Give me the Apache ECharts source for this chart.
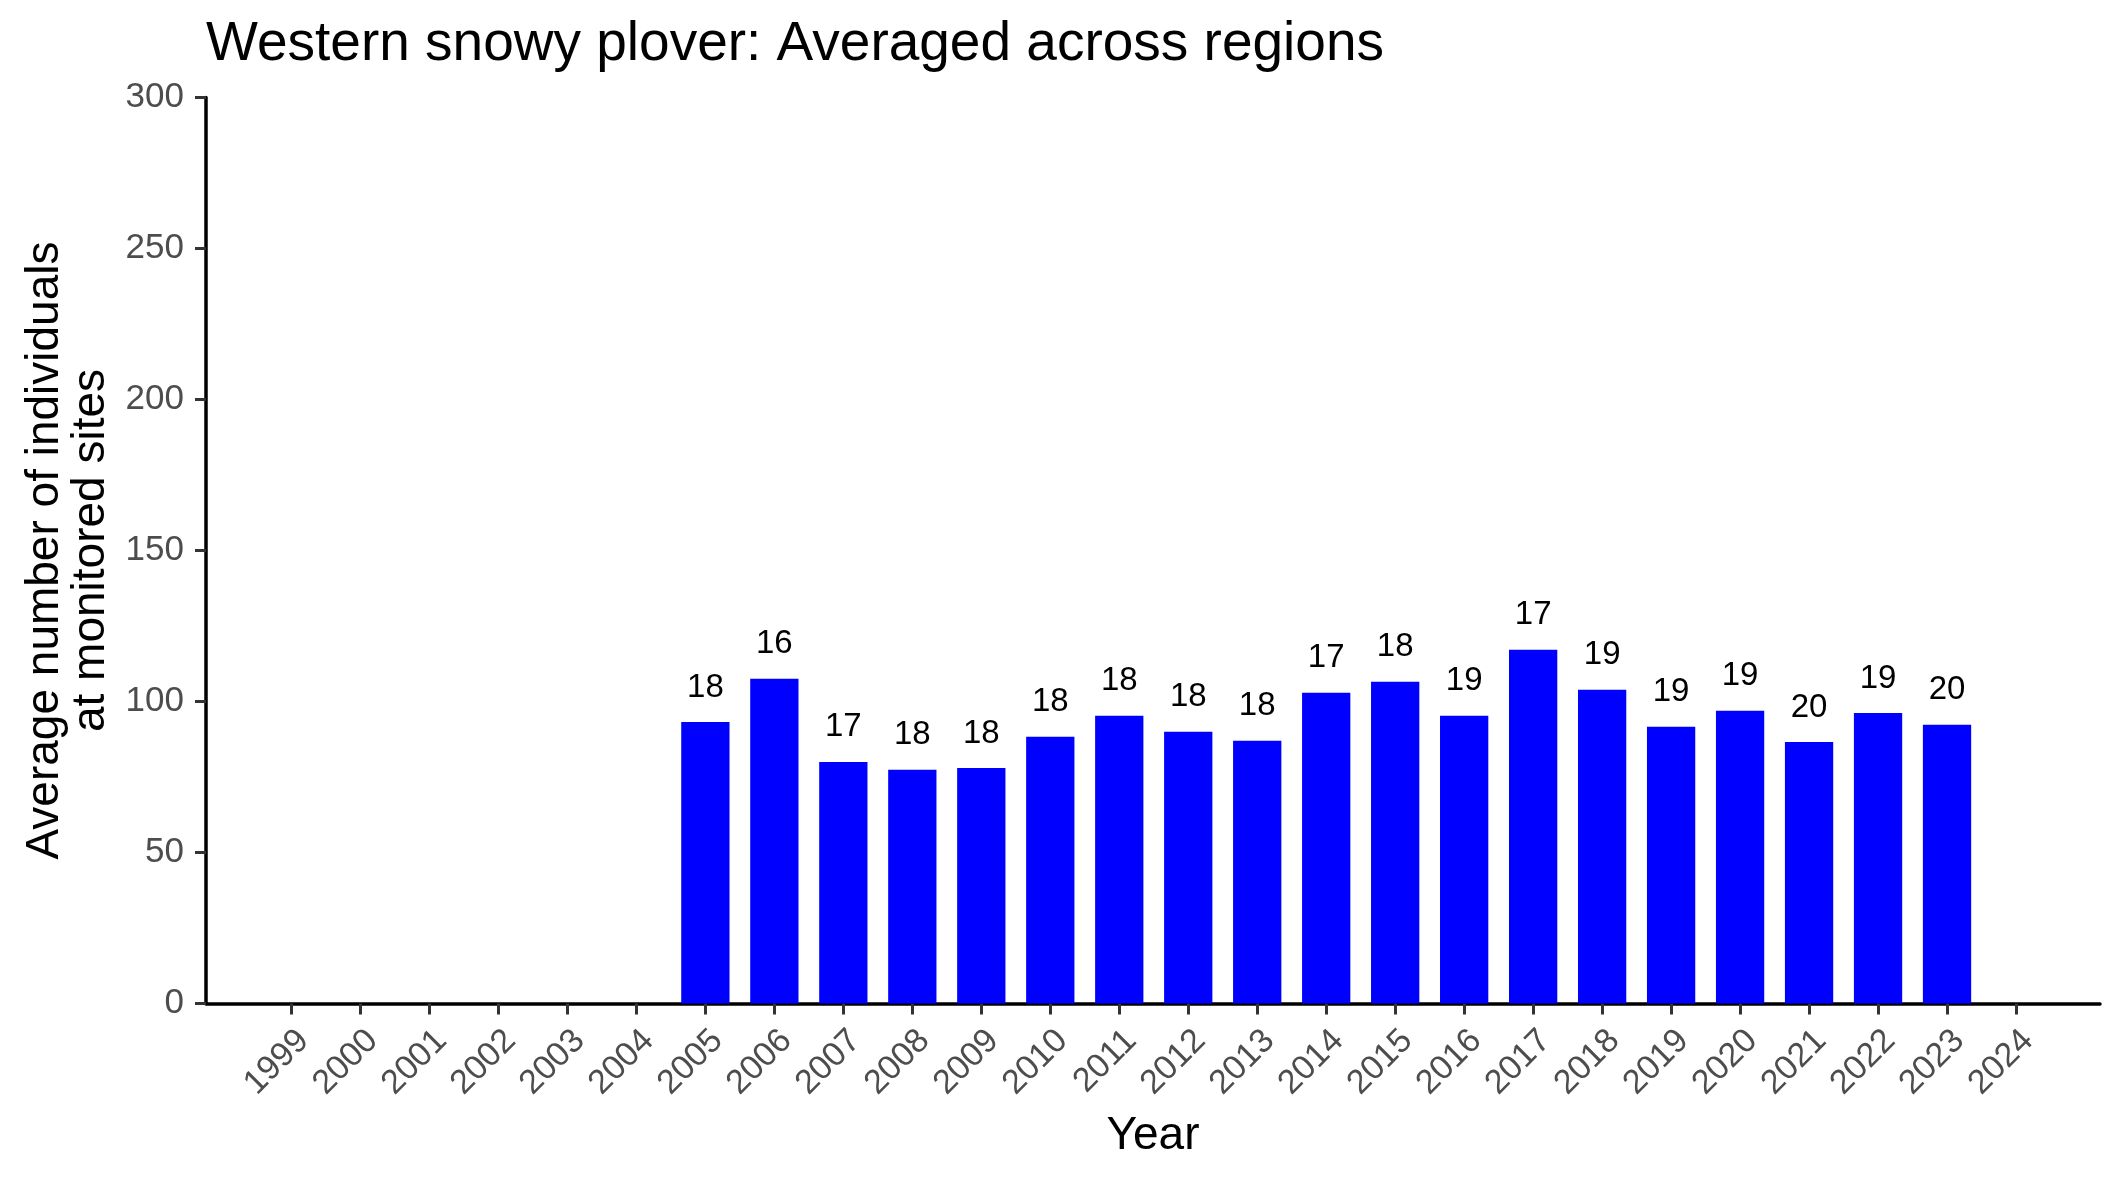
<!DOCTYPE html>
<html>
<head>
<meta charset="utf-8">
<title>Western snowy plover</title>
<script src="https://cdn.jsdelivr.net/npm/echarts@6/dist/echarts.min.js"></script>
<style>
  html, body { margin: 0; padding: 0; background: #fff; }
  #chart { width: 2125px; height: 1181px; }
</style>
</head>
<body>
<div id="chart"></div>
<script>
// years on the x axis
const years = ["1999", "2000", "2001", "2002", "2003", "2004", "2005", "2006", "2007",
  "2008", "2009", "2010", "2011", "2012", "2013", "2014", "2015", "2016", "2017",
  "2018", "2019", "2020", "2021", "2022", "2023", "2024"];
// average number of individuals (no survey -> null)
const avgIndividuals = [null, null, null, null, null, null, 93.2, 107.5, 80.0, 77.4,
  78.0, 88.3, 95.3, 90.0, 87.0, 102.9, 106.5, 95.3, 117.1, 103.9, 91.6, 96.9, 86.6,
  96.2, 92.3, null];
// number of monitored sites, printed above each bar
const siteCounts = [null, null, null, null, null, null, 18, 16, 17, 18, 18, 18, 18, 18,
  18, 17, 18, 19, 17, 19, 19, 19, 20, 19, 20, null];
const yTicks = [0, 50, 100, 150, 200, 250, 300];

const FONT = "Liberation Sans, Arial, Helvetica, sans-serif";
const TOP = 97.5;
const BOTTOM = 177.5;

const chart = echarts.init(document.getElementById("chart"));

const option = {
  backgroundColor: "#ffffff",
  textStyle: { fontFamily: FONT },
  title: {
    text: "Western snowy plover: Averaged across regions",
    left: 201,
    top: 12,
    textStyle: { fontFamily: FONT, fontSize: 55, fontWeight: "normal", color: "#000" },
  },
  grid: [
    // frame grid: carries the axis lines and the y scale
    { left: 206, right: 25, top: TOP, bottom: BOTTOM, containLabel: false, outerBoundsMode: "none" },
    // bar grid: categories inset like ggplot's discrete expansion
    { left: 257, right: 74.5, top: TOP, bottom: BOTTOM, containLabel: false, outerBoundsMode: "none" },
  ],
  xAxis: [
    {
      gridIndex: 0,
      type: "value",
      min: 0,
      max: 1,
      name: "Year",
      nameLocation: "middle",
      nameGap: 110,
      nameTextStyle: { fontFamily: FONT, fontSize: 46, color: "#000" },
      axisLine: { show: true, lineStyle: { color: "#000", width: 3.5 } },
      axisTick: { show: false },
      axisLabel: { show: false },
      splitLine: { show: false },
    },
    {
      gridIndex: 1,
      type: "category",
      data: years,
      boundaryGap: true,
      axisLine: { show: false },
      axisTick: {
        show: true,
        alignWithLabel: true,
        length: 11,
        lineStyle: { color: "#333333", width: 3 },
      },
      axisLabel: {
        rotate: 45,
        interval: 0,
        margin: 20,
        verticalAlign: "top",
        fontFamily: FONT,
        fontSize: 34,
        color: "#4d4d4d",
      },
      splitLine: { show: false },
    },
  ],
  yAxis: [
    {
      gridIndex: 0,
      type: "value",
      min: yTicks[0],
      max: yTicks[yTicks.length - 1],
      interval: 50,
      name: "Average number of individuals\nat monitored sites",
      nameLocation: "middle",
      nameRotate: 90,
      nameGap: 91,
      nameTextStyle: { fontFamily: FONT, fontSize: 46, color: "#000", lineHeight: 46, align: "center" },
      axisLine: { show: true, lineStyle: { color: "#000", width: 3.5 } },
      axisTick: { show: true, length: 11, lineStyle: { color: "#333333", width: 3 } },
      axisLabel: { margin: 22, fontFamily: FONT, fontSize: 35, color: "#4d4d4d" },
      splitLine: { show: false },
    },
    {
      gridIndex: 1,
      type: "value",
      min: yTicks[0],
      max: yTicks[yTicks.length - 1],
      interval: 50,
      show: false,
    },
  ],
  series: [
    {
      type: "bar",
      xAxisIndex: 1,
      yAxisIndex: 1,
      data: avgIndividuals,
      barWidth: "70%",
      itemStyle: { color: "#0000ff" },
      label: {
        show: true,
        position: "top",
        distance: 18,
        fontFamily: FONT,
        fontSize: 33,
        color: "#000",
        formatter: (p) => (siteCounts[p.dataIndex] == null ? "" : String(siteCounts[p.dataIndex])),
      },
      animation: false,
    },
  ],
  animation: false,
};

chart.setOption(option);
</script>
</body>
</html>
